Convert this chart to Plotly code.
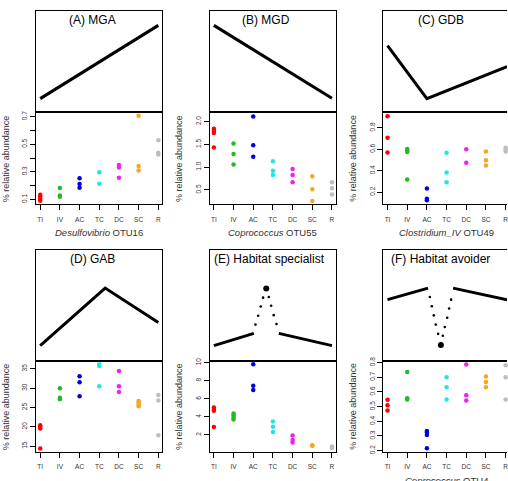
import plotly.graph_objects as go

W, H = 508, 481

# ---------------- data ----------------
categories = ["TI", "IV", "AC", "TC", "DC", "SC", "R"]
cat_colors = ["#FF0000", "#22BB22", "#0000DD", "#22E5E5", "#EE22EE", "#F5A623", "#BEBEBE"]

mga_values = [[0.133, 0.12, 0.105, 0.09], [0.183, 0.129, 0.119], [0.254, 0.211, 0.185],
              [0.297, 0.214], [0.35, 0.331, 0.257], [0.707, 0.343, 0.309], [0.529, 0.438, 0.426]]
mgd_values = [[1.84, 1.79, 1.75, 1.43], [1.52, 1.29, 1.06], [2.11, 1.48, 1.23],
              [1.13, 0.92, 0.83], [0.96, 0.83, 0.67], [0.80, 0.515, 0.26], [0.67, 0.54, 0.40]]
gdb_values = [[0.907, 0.708, 0.570], [0.604, 0.588, 0.575, 0.319], [0.234, 0.138, 0.124],
              [0.567, 0.384, 0.292], [0.601, 0.475], [0.579, 0.497, 0.448], [0.615, 0.598, 0.58]]
gab_values = [[20.4, 20.0, 19.6, 14.4], [30.0, 27.5, 27.1], [33.1, 31.5, 27.9],
              [36.2, 35.7, 30.5], [34.4, 30.5, 29.0], [26.7, 26.3, 25.8, 25.3], [28.2, 26.8, 17.8]]
spec_values = [[5.05, 4.87, 4.69, 2.87], [4.36, 4.15, 3.89, 3.71], [9.82, 7.45, 6.98],
               [3.49, 2.91, 2.33], [1.93, 1.45, 1.16], [0.84, 0.84, 0.84], [0.73, 0.62, 0.55]]
avoid_values = [[0.547, 0.509, 0.473], [0.737, 0.558, 0.549], [0.334, 0.323, 0.307, 0.216],
                [0.701, 0.632, 0.549], [0.788, 0.578, 0.542], [0.706, 0.668, 0.632], [0.782, 0.701, 0.549]]

mga_yticks = [0.1, 0.2, 0.3, 0.4, 0.5, 0.6, 0.7]
mga_ytext = ["0.1", "", "0.3", "", "0.5", "", "0.7"]
mgd_yticks = [0.5, 1.0, 1.5, 2.0]
mgd_ytext = ["0.5", "1.0", "1.5", "2.0"]
gdb_yticks = [0.2, 0.4, 0.6, 0.8]
gdb_ytext = ["0.2", "0.4", "0.6", "0.8"]
gab_yticks = [15, 20, 25, 30, 35]
gab_ytext = ["15", "20", "25", "30", "35"]
spec_yticks = [2, 4, 6, 8, 10]
spec_ytext = ["2", "4", "6", "8", "10"]
avoid_yticks = [0.2, 0.3, 0.4, 0.5, 0.6, 0.7, 0.8]
avoid_ytext = ["0.2", "0.3", "0.4", "0.5", "0.6", "0.7", "0.8"]

# schematic profiles (upper boxes), x in category-index units, y in 0..1
mga_line_x, mga_line_y = [0, 6], [0.136, 0.86]
mgd_line_x, mgd_line_y = [0, 6], [0.86, 0.139]
gdb_line_x, gdb_line_y = [0, 2, 6.07], [0.659, 0.136, 0.453]
gab_line_x, gab_line_y = [0, 3.3, 6], [0.138, 0.655, 0.345]

spec_left_x, spec_left_y = [0, 2.03], [0.138, 0.248]
spec_right_x, spec_right_y = [3.30, 6], [0.248, 0.138]
spec_dot_x = [2.11, 2.25, 2.38, 2.50, 2.79, 2.91, 3.04, 3.18]
spec_dot_y = [0.327, 0.407, 0.489, 0.569, 0.575, 0.496, 0.412, 0.333]
spec_peak_x, spec_peak_y = [2.66], [0.651]

avoid_left_x, avoid_left_y = [0, 2.06], [0.551, 0.655]
avoid_right_x, avoid_right_y = [3.33, 6.07], [0.655, 0.551]
avoid_dot_x = [2.15, 2.25, 2.35, 2.45, 2.57, 2.81, 2.91, 3.03, 3.13, 3.23]
avoid_dot_y = [0.575, 0.492, 0.410, 0.327, 0.244, 0.227, 0.306, 0.389, 0.472, 0.551]
avoid_peak_x, avoid_peak_y = [2.71], [0.144]

# ---------------- layout geometry (pixels) ----------------
FONT = "Liberation Sans, Arial, sans-serif"
col_left = [36, 210, 384]
box_w = 126.5
px_per_cat = 19.72
rows = [dict(up=(7.3, 110.0), low=(110.0, 203.3)),
        dict(up=(249.3, 362.3), low=(362.3, 454.3))]

panels = [
    dict(col=0, row=0, title="(A) MGA", tx=92.5, vals=mga_values, yr=[0.064, 0.731],
         tv=mga_yticks, tt=mga_ytext, xt="<i>Desulfovibrio</i> OTU16",
         lines=[(mga_line_x, mga_line_y)], dots=None),
    dict(col=1, row=0, title="(B) MGD", tx=267, vals=mgd_values, yr=[0.185, 2.2],
         tv=mgd_yticks, tt=mgd_ytext, xt="<i>Coprococcus</i> OTU55",
         lines=[(mgd_line_x, mgd_line_y)], dots=None),
    dict(col=2, row=0, title="(C) GDB", tx=441.7, vals=gdb_values, yr=[0.087, 0.944],
         tv=gdb_yticks, tt=gdb_ytext, xt="<i>Clostridium_IV</i> OTU49",
         lines=[(gdb_line_x, gdb_line_y)], dots=None),
    dict(col=0, row=1, title="(D) GAB", tx=92.8, vals=gab_values, yr=[13.58, 37.0],
         tv=gab_yticks, tt=gab_ytext, xt=None,
         lines=[(gab_line_x, gab_line_y)], dots=None),
    dict(col=1, row=1, title="(E) Habitat specialist", tx=270, vals=spec_values, yr=[0.146, 10.18],
         tv=spec_yticks, tt=spec_ytext, xt=None,
         lines=[(spec_left_x, spec_left_y), (spec_right_x, spec_right_y)],
         dots=(spec_dot_x, spec_dot_y, spec_peak_x, spec_peak_y)),
    dict(col=2, row=1, title="(F) Habitat avoider", tx=441.8, vals=avoid_values, yr=[0.193, 0.811],
         tv=avoid_yticks, tt=avoid_ytext, xt="<i>Coprococcus</i> OTU4",
         lines=[(avoid_left_x, avoid_left_y), (avoid_right_x, avoid_right_y)],
         dots=(avoid_dot_x, avoid_dot_y, avoid_peak_x, avoid_peak_y)),
]


def px_to_py(p):
    return 1 - p / H


fig = go.Figure()
layout = dict(width=W, height=H, margin=dict(l=0, r=0, t=0, b=0),
              paper_bgcolor="white", plot_bgcolor="white", showlegend=False,
              font=dict(family=FONT, color="#222"))
annotations = []

for i, p in enumerate(panels):
    ui, li = 2 * i + 1, 2 * i + 2
    uname = "" if ui == 1 else str(ui)
    lname = str(li)
    left = col_left[p["col"]]
    right = min(left + box_w, W)
    xdom = [left / W, right / W]
    x0 = -4.3 / px_per_cat
    xr = [x0, x0 + (right - left) / px_per_cat]
    r = rows[p["row"]]
    udom = [px_to_py(r["up"][1]), px_to_py(r["up"][0])]
    ldom = [px_to_py(r["low"][1]), px_to_py(r["low"][0])]
    mirror_y = p["col"] < 2

    common = dict(showgrid=False, zeroline=False, linecolor="black", linewidth=1, showline=True)
    layout["xaxis" + uname] = dict(common, domain=xdom, anchor="y" + uname, range=xr, type="linear",
                                   mirror=True, showticklabels=False, ticks="")
    layout["yaxis" + uname] = dict(common, domain=udom, anchor="x" + uname, range=[0, 1],
                                   mirror=mirror_y, showticklabels=False, ticks="")
    layout["xaxis" + lname] = dict(common, domain=xdom, anchor="y" + lname, range=xr, type="category",
                                   categoryorder="array", categoryarray=categories, mirror=True,
                                   ticks="outside", ticklen=5, tickcolor="black", tickwidth=1,
                                   tickfont=dict(size=6.5, color="#333"), ticklabelstandoff=4)
    layout["yaxis" + lname] = dict(common, domain=ldom, anchor="x" + lname, range=p["yr"],
                                   mirror=mirror_y, ticks="outside", ticklen=5, tickcolor="black",
                                   tickwidth=1, tickvals=p["tv"], ticktext=p["tt"], tickangle=-90,
                                   tickfont=dict(size=6.5, color="#333"))

    # schematic
    for lx, ly in p["lines"]:
        fig.add_trace(go.Scatter(x=lx, y=ly, mode="lines", line=dict(color="black", width=3),
                                 xaxis="x" + uname, yaxis="y" + uname, hoverinfo="skip"))
    if p["dots"]:
        dx, dy, pkx, pky = p["dots"]
        fig.add_trace(go.Scatter(x=dx, y=dy, mode="markers", marker=dict(color="black", size=2.6),
                                 xaxis="x" + uname, yaxis="y" + uname, cliponaxis=False))
        fig.add_trace(go.Scatter(x=pkx, y=pky, mode="markers", marker=dict(color="black", size=6),
                                 xaxis="x" + uname, yaxis="y" + uname, cliponaxis=False))

    # abundance points
    for cat, col, vals in zip(categories, cat_colors, p["vals"]):
        fig.add_trace(go.Scatter(x=[cat] * len(vals), y=vals, mode="markers",
                                 marker=dict(color=col, size=4.5, line=dict(width=0)),
                                 xaxis="x" + lname, yaxis="y" + lname, cliponaxis=False))

    # titles
    annotations.append(dict(text=p["title"], x=p["tx"] / W, y=px_to_py(r["up"][0] + 9),
                            xref="paper", yref="paper", xanchor="center", yanchor="middle",
                            showarrow=False, font=dict(size=12, color="black", family=FONT)))
    annotations.append(dict(text="% relative abundance", x=(left - 30) / W,
                            y=px_to_py((r["low"][0] + r["low"][1]) / 2), xref="paper", yref="paper",
                            xanchor="center", yanchor="middle", textangle=-90, showarrow=False,
                            font=dict(size=9, color="#333", family=FONT)))
    if p["xt"]:
        annotations.append(dict(text=p["xt"], x=(left + box_w / 2) / W,
                                y=px_to_py(r["low"][1] + 29), xref="paper", yref="paper",
                                xanchor="center", yanchor="middle", showarrow=False,
                                font=dict(size=9.5, color="#333", family=FONT)))

layout["annotations"] = annotations
fig.update_layout(**layout)
fig.write_html("out.html")
